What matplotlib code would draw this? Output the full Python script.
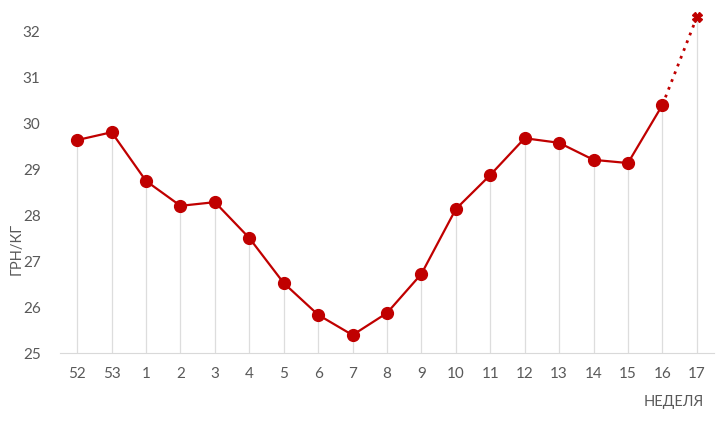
import matplotlib
matplotlib.use("Agg")
import matplotlib.pyplot as plt

# Data
weeks = ["52", "53", "1", "2", "3", "4", "5", "6", "7", "8",
         "9", "10", "11", "12", "13", "14", "15", "16", "17"]
price = [29.63, 29.80, 28.74, 28.20, 28.28, 27.50, 26.52, 25.83, 25.39, 25.87,
         26.72, 28.13, 28.87, 29.67, 29.57, 29.20, 29.13, 30.39]
forecast = [30.39, 32.30]  # weeks 16 -> 17

plt.rcParams['font.family'] = ['Lato', 'DejaVu Sans']
red = '#C00000'
grey = '#595959'

fig = plt.figure(figsize=(7.22, 4.24), dpi=100)
ax = fig.add_axes([60 / 722, 71 / 424, 654 / 722, 350 / 424])

x = list(range(len(weeks)))
ymin = 25

# drop lines
all_vals = price + [forecast[-1]]
ax.vlines(x, ymin, all_vals, color='#DDDDDD', lw=0.9, zorder=1)

ax.plot(x[:len(price)], price, color=red, lw=1.6, marker='o', ms=8.5, zorder=3)
ax.plot(x[-2:], forecast, color=red, lw=2, ls=(0, (1, 2)), zorder=3)
ax.plot(x[-1], forecast[-1], marker='X', color=red, ms=7, zorder=4)

ax.set_xlim(-0.5, len(weeks) - 0.5)
ax.set_ylim(25, 32.61)
ax.set_yticks(range(25, 33))
ax.set_xticks(x)
ax.set_xticklabels(weeks)

for s in ['top', 'right', 'left']:
    ax.spines[s].set_visible(False)
ax.spines['bottom'].set_color('#D9D9D9')
ax.tick_params(axis='both', length=0, labelsize=11, colors=grey)
ax.tick_params(axis='x', pad=10)
ax.tick_params(axis='y', pad=14)

fig.text(17 / 722, 175 / 424, 'ГРН/КГ', rotation=90, color=grey, fontsize=10.5,
         ha='center', va='center')
fig.text(704 / 722, 22 / 424, 'НЕДЕЛЯ', color=grey, fontsize=10.5, ha='right', va='center')

fig.savefig('out.png', dpi=100)
